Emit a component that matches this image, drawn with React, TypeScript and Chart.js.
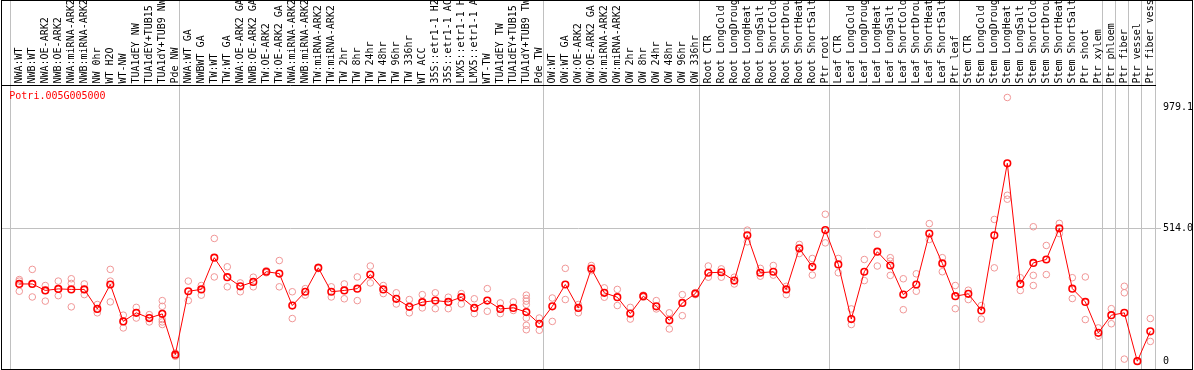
import { useEffect, useRef } from 'react';
import { Chart, registerables } from 'chart.js';

Chart.register(...registerables);

const geneId = 'Potri.005G005000';

const categories = [
  'NWA:WT', 'NWB:WT', 'NWA:OE-ARK2', 'NWB:OE-ARK2', 'NWA:miRNA-ARK2', 'NWB:miRNA-ARK2',
  'NW 0hr', 'WT H2O', 'WT-NW', 'TUA1dEY NW', 'TUA1dEY+TUB15 NW', 'TUA1dY+TUB9 NW', 'Pde NW',
  'NWA:WT GA', 'NWBWT GA', 'TW:WT', 'TW:WT GA', 'NWA:OE-ARK2 GA', 'NWB:OE-ARK2 GA',
  'TW:OE-ARK2', 'TW:OE-ARK2 GA', 'NWA:miRNA-ARK2 GA', 'NWB:miRNA-ARK2 GA', 'TW:miRNA-ARK2',
  'TW:miRNA-ARK2 GA', 'TW 2hr', 'TW 8hr', 'TW 24hr', 'TW 48hr', 'TW 96hr', 'TW 336hr',
  'WT ACC', '35S::etr1-1 H2O', '35S::etr1-1 ACC', 'LMX5::etr1-1 H2O', 'LMX5::etr1-1 ACC',
  'WT-TW', 'TUA1dEY TW', 'TUA1dEY+TUB15 TW', 'TUA1dY+TUB9 TW', 'Pde TW',
  'OW:WT', 'OW:WT GA', 'OW:OE-ARK2', 'OW:OE-ARK2 GA', 'OW:miRNA-ARK2', 'OW:miRNA-ARK2 GA',
  'OW 2hr', 'OW 8hr', 'OW 24hr', 'OW 48hr', 'OW 96hr', 'OW 336hr',
  'Root CTR', 'Root LongCold', 'Root LongDrought', 'Root LongHeat', 'Root LongSalt',
  'Root ShortCold', 'Root ShortDrought', 'Root ShortHeat', 'Root ShortSalt', 'Ptr root',
  'Leaf CTR', 'Leaf LongCold', 'Leaf LongDrought', 'Leaf LongHeat', 'Leaf LongSalt',
  'Leaf ShortCold', 'Leaf ShortDrought', 'Leaf ShortHeat', 'Leaf ShortSalt', 'Ptr leaf',
  'Stem CTR', 'Stem LongCold', 'Stem LongDrought', 'Stem LongHeat', 'Stem LongSalt',
  'Stem ShortCold', 'Stem ShortDrought', 'Stem ShortHeat', 'Stem ShortSalt', 'Ptr shoot',
  'Ptr xylem', 'Ptr phloem', 'Ptr fiber', 'Ptr vessel', 'Ptr fiber vessel',
];

const means = [
  299, 299, 274, 280, 278, 278, 203, 297, 155, 188, 168, 184, 27,
  271, 278, 400, 325, 290, 307, 346, 339, 216, 269, 361, 269, 274, 281, 335, 278, 242, 211,
  229, 235, 230, 248, 207, 235, 203, 207, 191, 146,
  213, 297, 207, 358, 265, 248, 185, 252, 213, 159, 226, 262,
  342, 344, 312, 486, 342, 346, 278, 436, 365, 506,
  374, 164, 346, 423, 370, 258, 297, 493, 378, 252,
  261, 197, 486, 763, 299, 380, 393, 513, 281, 230, 111,
  179, 188, 2, 117,
];

const replicates = [
  [316, 310, 271], [355, 249, 299], [293, 233, 274], [310, 254, 280], [319, 301, 211],
  [299, 258, 278], [220, 188, 203], [355, 310, 230], [179, 130, 155], [209, 168],
  [181, 153], [235, 213, 184, 162, 153, 143], [33, 21],
  [310, 235], [293, 256], [474, 326], [365, 288], [303, 269], [325, 288], [350, 342],
  [389, 288], [269, 166], [281, 256], [364, 358], [288, 249], [299, 242], [326, 235],
  [368, 303], [293, 262], [265, 222], [239, 188], [258, 207], [265, 204], [248, 204],
  [262, 222], [242, 185], [281, 194], [226, 185], [230, 197],
  [256, 243, 233, 220, 168, 140, 123], [168, 121],
  [245, 155], [359, 239], [220, 188], [370, 350], [284, 248], [278, 216], [209, 164],
  [256, 248], [235, 203], [188, 126], [258, 177], [266, 258],
  [368, 325], [357, 325], [325, 299], [506, 461], [359, 329], [370, 333], [290, 258],
  [451, 416], [397, 333], [567, 457],
  [397, 342], [203, 143], [393, 312], [490, 368], [400, 387, 332], [319, 200], [338, 271],
  [531, 470], [400, 346], [293, 204],
  [275, 239], [216, 164], [547, 361], [1016, 640, 625], [323, 274], [519, 332, 293],
  [447, 335], [532, 493], [323, 243], [326, 162], [130, 98],
  [204, 146], [290, 265, 10], [4], [166, 78],
];

// index of the first category of each group (last entry = end)
const groupStarts = [0, 13, 41, 53, 63, 73, 84, 85, 86, 87, 88];

const yTickValues = [0, 514.0, 979.1];
const yGridValue = 514.0;

const FONT = '"DejaVu Sans Mono", monospace';
const GRID_GRAY = '#c0c0c0';
const NONE = 'rgba(0,0,0,0)';

export default function App() {
  const ref = useRef<HTMLCanvasElement | null>(null);

  useEffect(() => {
    document.body.style.margin = '0';
    const canvas = ref.current;
    if (!canvas) return;

    const boundaryValues = groupStarts.map((s) => s - 0.64);
    const xTickValues = [...categories.map((_, i) => i), ...boundaryValues].sort((a, b) => a - b);
    const isBoundary = (v: number) => !Number.isInteger(v);

    const lineData = means.map((v, i) => ({ x: i, y: v }));
    const repData = replicates.flatMap((arr, i) => arr.map((v) => ({ x: i, y: v })));

    const geneLabel = {
      id: 'geneLabel',
      afterDatasetsDraw(chart: any) {
        const { ctx, chartArea } = chart;
        ctx.save();
        ctx.font = `10px ${FONT}`;
        ctx.fillStyle = '#ff0000';
        ctx.textAlign = 'left';
        ctx.textBaseline = 'alphabetic';
        ctx.fillText(geneId, chartArea.left + 7.3, chartArea.top + 14.3);
        ctx.restore();
      },
    };

    const chart = new Chart(canvas, {
      type: 'line',
      data: {
        datasets: [
          {
            label: 'mean',
            data: lineData,
            borderColor: '#ff0000',
            borderWidth: 1,
            pointRadius: 3.3,
            pointBorderWidth: 1.6,
            pointBorderColor: '#ff0000',
            pointBackgroundColor: NONE,
            tension: 0,
          },
          {
            type: 'scatter',
            label: 'replicates',
            data: repData,
            showLine: false,
            pointRadius: 3.3,
            pointBorderWidth: 1,
            pointBorderColor: 'rgb(240,150,150)',
            pointBackgroundColor: NONE,
          } as any,
        ],
      },
      options: {
        animation: false,
        responsive: true,
        maintainAspectRatio: false,
        layout: { padding: 0, autoPadding: false },
        plugins: {
          legend: { display: false },
          tooltip: { enabled: false },
          title: { display: false },
        },
        scales: {
          x: {
            type: 'linear',
            position: 'top',
            bounds: 'data',
            min: -1.33,
            max: 87.36,
            afterBuildTicks: (s: any) => {
              s.ticks = xTickValues.map((v) => ({ value: v }));
            },
            afterFit: (s: any) => {
              s.height = 84;
              s.paddingLeft = 0;
              s.paddingRight = 0;
            },
            ticks: {
              autoSkip: false,
              minRotation: 90,
              maxRotation: 90,
              padding: -82.5,
              labelOffset: 12,
              color: '#000',
              font: { family: FONT, size: 10 },
              callback: (v: any) => (Number.isInteger(v) ? categories[v] : ''),
            },
            grid: {
              color: (c: any) => (c.tick && isBoundary(c.tick.value) ? GRID_GRAY : NONE),
              tickColor: (c: any) => (c.tick && isBoundary(c.tick.value) ? GRID_GRAY : NONE),
              tickLength: 84,
              lineWidth: 1,
            },
            border: { display: true, color: '#000', width: 1 },
          },
          y: {
            type: 'linear',
            position: 'right',
            min: -28,
            max: 1064,
            afterBuildTicks: (s: any) => {
              s.ticks = yTickValues.map((v) => ({ value: v }));
            },
            afterFit: (s: any) => {
              s.width = 37;
              s.paddingTop = 0;
              s.paddingBottom = 0;
            },
            ticks: {
              autoSkip: false,
              padding: 2,
              color: '#000',
              font: { family: FONT, size: 10 },
              callback: (v: any) => (v === 0 ? '0' : Number(v).toFixed(1)),
            },
            grid: {
              color: (c: any) => (c.tick && c.tick.value === yGridValue ? GRID_GRAY : NONE),
              tickColor: (c: any) => (c.tick && c.tick.value === yGridValue ? GRID_GRAY : NONE),
              tickLength: 6,
              lineWidth: 1,
            },
            border: { display: false },
          },
        },
      },
      plugins: [geneLabel],
    });

    return () => chart.destroy();
  }, []);

  return (
    <div
      style={{
        position: 'absolute',
        left: 1,
        top: 0,
        width: 1190,
        height: 368,
        border: '1px solid #000',
        background: '#fff',
      }}
    >
      <canvas ref={ref} />
    </div>
  );
}
